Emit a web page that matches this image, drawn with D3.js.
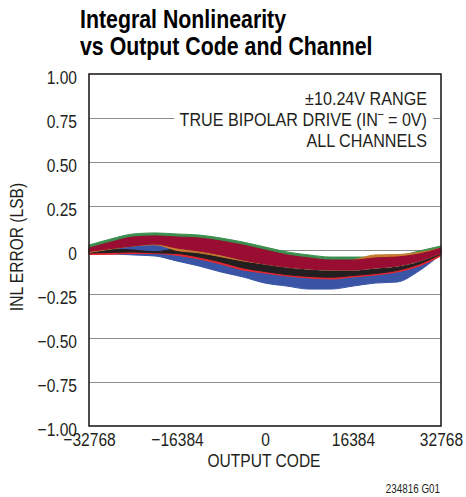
<!DOCTYPE html>
<html><head><meta charset="utf-8">
<script src="https://cdn.jsdelivr.net/npm/d3@7"></script>
<style>
body{margin:0;background:#fff}
svg text{font-family:"Liberation Sans",Arial,sans-serif;fill:#231f20}
</style>
</head><body>
<svg id="c" width="466" height="497"></svg>
<script>
// ---- data ----
const titleLines = ["Integral Nonlinearity", "vs Output Code and Channel"];
const noteLines = ["±10.24V RANGE", "TRUE BIPOLAR DRIVE (IN", "ALL CHANNELS"];
const xTicks = [-32768, -16384, 0, 16384, 32768];
const yTicks = [-1, -0.75, -0.5, -0.25, 0, 0.25, 0.5, 0.75, 1];
const codes = [-32768,-28672,-24576,-20480,-16384,-12288,-8192,-4096,0,4096,8192,12288,16384,20480,24576,28672,32768];

const blueHi   = [0,0.017,0.040,0.045,0.017,-0.006,-0.034,-0.063,-0.091,-0.114,-0.125,-0.131,-0.125,-0.114,-0.102,-0.074,-0.006];
const blueLo   = [-0.023,-0.023,-0.028,-0.034,-0.063,-0.091,-0.125,-0.153,-0.188,-0.205,-0.222,-0.222,-0.205,-0.188,-0.182,-0.119,-0.023];
const redHi    = [-0.006,0.004,-0.006,-0.014,0,-0.017,-0.040,-0.068,-0.091,-0.108,-0.119,-0.125,-0.125,-0.114,-0.102,-0.074,-0.017];
const redLo    = [-0.026,-0.024,-0.020,-0.020,-0.030,-0.051,-0.080,-0.114,-0.131,-0.148,-0.159,-0.165,-0.153,-0.142,-0.125,-0.091,-0.034];
const blackHi  = [0,0.004,0.000,-0.010,0.006,-0.011,-0.034,-0.063,-0.085,-0.102,-0.114,-0.119,-0.119,-0.108,-0.097,-0.068,-0.011];
const blackLo  = [-0.017,-0.014,-0.011,-0.016,-0.020,-0.040,-0.068,-0.102,-0.122,-0.140,-0.150,-0.155,-0.145,-0.134,-0.116,-0.080,-0.023];
const greenHi  = [0.028,0.063,0.091,0.097,0.091,0.085,0.068,0.045,0.017,-0.011,-0.028,-0.040,-0.040,-0.040,-0.034,-0.006,0.023];
const greenLo  = [-0.011,0.006,0.023,0.034,0.011,-0.006,-0.028,-0.057,-0.080,-0.097,-0.108,-0.114,-0.114,-0.102,-0.091,-0.063,-0.017];
const orangeHi = [0.006,0.034,0.063,0.068,0.063,0.057,0.040,0.017,-0.011,-0.040,-0.057,-0.068,-0.057,-0.028,-0.026,-0.014,0.011];
const orangeLo = [-0.014,0.006,0.023,0.030,-0.003,-0.016,-0.038,-0.062,-0.080,-0.097,-0.108,-0.114,-0.114,-0.102,-0.091,-0.063,-0.017];
const maroonHi = [0.011,0.045,0.074,0.080,0.074,0.068,0.051,0.028,0,-0.028,-0.045,-0.057,-0.057,-0.045,-0.040,-0.023,0.011];
const maroonLo = [-0.008,0.008,0.023,0.034,0.011,-0.006,-0.028,-0.057,-0.080,-0.097,-0.108,-0.114,-0.114,-0.102,-0.091,-0.063,-0.017];

const channels = [
  {name:"blue",   color:"#3a55a6", hi:blueHi,   lo:blueLo},
  {name:"red",    color:"#e3262f", hi:redHi,    lo:redLo},
  {name:"black",  color:"#231f20", hi:blackHi,  lo:blackLo},
  {name:"green",  color:"#3b8e4e", hi:greenHi,  lo:greenLo},
  {name:"orange", color:"#c67b2e", hi:orangeHi, lo:orangeLo},
  {name:"maroon", color:"#990d33", hi:maroonHi, lo:maroonLo}
];

// ---- layout ----
const SX = 0.82; // condensed look
const L = 89, R = 441, T = 74, B = 426;
const svg = d3.select("#c");
const x = d3.scaleLinear().domain([-32768, 32768]).range([L, R]);
const y = d3.scaleLinear().domain([-1, 1]).range([B, T]);

function label(parent, tx, ty, txt, size, anchor, extra, sx) {
  const g = parent.append("g").attr("transform", `translate(${tx},${ty}) ${extra || ""} scale(${sx || SX},1)`);
  const t = g.append("text").attr("text-anchor", anchor || "start").style("font-size", size + "px");
  if (txt !== null) t.text(txt);
  return {g, t};
}

// title
titleLines.forEach((d, i) => {
  const o = label(svg, 80, 28 + i * 27, d, 26, "start");
  o.t.style("font-weight", "bold").style("fill", "#000");
});

// gridlines
svg.append("g")
  .attr("transform", `translate(${L},0)`)
  .call(d3.axisLeft(y).tickValues(yTicks.filter(v => Math.abs(v) < 1)).tickSize(-(R - L)).tickFormat(""))
  .call(g => g.select(".domain").remove())
  .call(g => g.selectAll("line").attr("stroke", "#8c8c8c").attr("stroke-width", 1.1));

// bands
const area = d3.area()
  .x((d, i) => x(codes[i]))
  .y0(d => y(d[1]))
  .y1(d => y(d[0]))
  .curve(d3.curveMonotoneX);
svg.append("g").selectAll("path").data(channels).join("path")
  .attr("d", c => area(c.hi.map((h, i) => [h, c.lo[i]])))
  .attr("fill", c => c.color)
  .attr("stroke", c => c.color)
  .attr("stroke-width", 1);

// notes with white backgrounds
noteLines.forEach((t, i) => {
  const o = label(svg, 427, 105 + i * 21, i === 1 ? null : t, 19, "end", "", 0.85);
  if (i === 1) {
    o.t.append("tspan").text(t);
    o.t.append("tspan").attr("dy", -8).style("font-size", "12px").text("\u2013");
    o.t.append("tspan").attr("dy", 8).text(" = 0V)");
  }
  const bb = o.t.node().getBBox();
  o.g.insert("rect", "text")
    .attr("x", bb.x - 6).attr("y", bb.y + 2)
    .attr("width", bb.width + 13).attr("height", bb.height - 4)
    .attr("fill", "#fff");
});

// frame
svg.append("rect")
  .attr("x", L).attr("y", T).attr("width", R - L).attr("height", B - T)
  .attr("fill", "none").attr("stroke", "#231f20").attr("stroke-width", 1.6);

// y axis labels
const fmtY = v => v === 0 ? "0" : d3.format(".2f")(v);
svg.append("g")
  .attr("transform", `translate(${L},0)`)
  .call(d3.axisLeft(y).tickValues(yTicks).tickSize(0).tickPadding(12 / SX).tickFormat(fmtY))
  .call(g => g.select(".domain").remove())
  .call(g => g.selectAll("text").attr("dy", "0.5em").attr("transform", `scale(${SX},1)`)
    .attr("font-family", null).attr("font-size", null).style("font-size", "19px"));

// x axis labels
svg.append("g")
  .attr("transform", `translate(0,${B})`)
  .call(d3.axisBottom(x).tickValues(xTicks).tickSize(0).tickPadding(7).tickFormat(d3.format("d")))
  .call(g => g.select(".domain").remove())
  .call(g => g.selectAll("text").attr("transform", `scale(${SX},1)`)
    .attr("font-family", null).attr("font-size", null).style("font-size", "19px"));

// axis titles
label(svg, 264, 467, "OUTPUT CODE", 19, "middle");
label(svg, 23, 247, "INL ERROR (LSB)", 19, "middle", "rotate(-90)");
label(svg, 440, 493, "234816 G01", 12, "end");
</script>
</body></html>
